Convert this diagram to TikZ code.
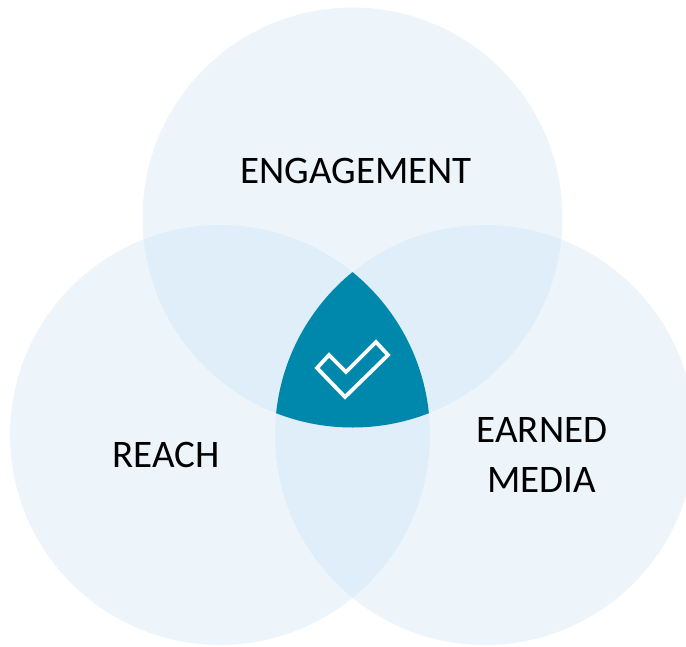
\documentclass[tikz,border=0pt]{standalone}
\usepackage{fontspec}
\setmainfont{Carlito}
\definecolor{setfill}{HTML}{A6CFEC}
\definecolor{core}{HTML}{0088AC}
\begin{document}
\begin{tikzpicture}[x=1pt,y=-1pt,
  setcircle/.style={fill=setfill,fill opacity=0.2},
  setlabel/.style={font=\fontsize{39}{50}\selectfont,text=black,align=center,inner sep=0pt}]
  \useasboundingbox (0,0) rectangle (686,646);
  % the three sets
  \coordinate (ct) at (352.5,217.5);
  \coordinate (cl) at (220,435);
  \coordinate (cr) at (485,435);
  \begin{scope}
    \clip (0,0) rectangle (686,646);
    \fill[setcircle] (ct) circle[radius=210];
    \fill[setcircle] (cl) circle[radius=210];
    \fill[setcircle] (cr) circle[radius=210];
    % common part of all three sets
    \begin{scope}
      \clip (cl) circle[radius=210];
      \clip (cr) circle[radius=210];
      \fill[core] (ct) circle[radius=210];
    \end{scope}
  \end{scope}
  % outlined check mark
  \draw[white,line width=3.8pt,line join=miter]
    (329,355) -- (346,372) -- (376,342) -- (388,355) -- (345,397) -- (317,368) -- cycle;
  % labels
  \node[setlabel] (engagement) at (356,171) {ENGAGEMENT};
  \node[setlabel] (reach) at (166,455) {REACH};
  \node[setlabel] (earned) at (542,455) {EARNED\\MEDIA};
\end{tikzpicture}
\end{document}
